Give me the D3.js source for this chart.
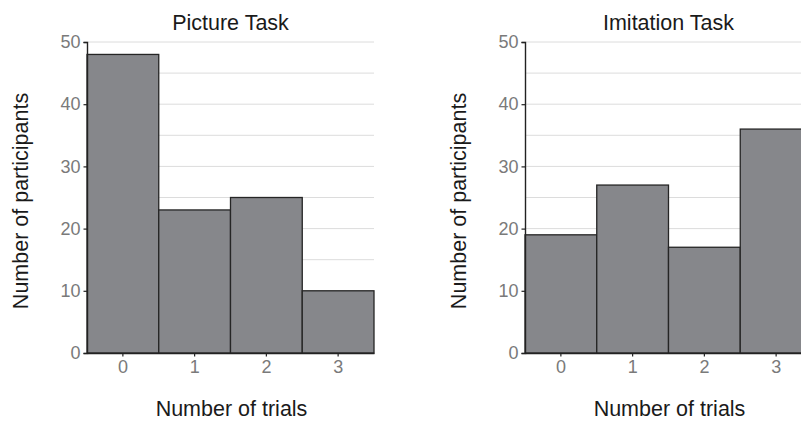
<!DOCTYPE html>
<html>
<head>
<meta charset="utf-8">
<script src="https://cdn.jsdelivr.net/npm/d3@7"></script>
<style>
  html, body { margin: 0; padding: 0; background: #fff; }
  svg { display: block; }
  text { font-family: "Liberation Sans", Arial, Helvetica, sans-serif; }
</style>
</head>
<body>
<svg id="chart" width="801" height="421"></svg>
<script>
const trials = ["0", "1", "2", "3"];
const pictureTask = [48, 23, 25, 10];
const imitationTask = [19, 27, 17, 36];
const panelTitles = ["Picture Task", "Imitation Task"];
const yTicks = [0, 10, 20, 30, 40, 50];
const yGrid = [5, 10, 15, 20, 25, 30, 35, 40, 45, 50];
const yLabel = "Number of participants";
const xLabel = "Number of trials";

const svg = d3.select("#chart");
const panels = [
  { title: panelTitles[0], values: pictureTask, left: 87, ytitleX: 28 },
  { title: panelTitles[1], values: imitationTask, left: 525, ytitleX: 466 }
];
const plotTop = 42, plotBottom = 353, plotW = 287;

panels.forEach(p => {
  const x = d3.scaleBand().domain(trials).range([p.left, p.left + plotW]).padding(0);
  const y = d3.scaleLinear().domain([0, 50]).range([plotBottom, plotTop]);
  const g = svg.append("g");

  // gridlines
  g.selectAll("line.grid").data(yGrid).join("line")
    .attr("class", "grid")
    .attr("x1", p.left).attr("x2", p.left + plotW)
    .attr("y1", d => y(d)).attr("y2", d => y(d))
    .attr("stroke", "#dcdcdc").attr("stroke-width", 1);

  // bars
  g.selectAll("rect.bar").data(p.values).join("rect")
    .attr("class", "bar")
    .attr("x", (d, i) => x(trials[i]))
    .attr("width", x.bandwidth())
    .attr("y", d => y(d))
    .attr("height", d => y(0) - y(d))
    .attr("fill", "#86878b")
    .attr("stroke", "#252525")
    .attr("stroke-width", 1.3);

  // y axis
  const ya = g.append("g").attr("transform", `translate(${p.left},0)`)
    .call(d3.axisLeft(y).tickValues(yTicks).tickSize(3.5).tickPadding(3));
  ya.select(".domain").attr("stroke", "#222").attr("stroke-width", 1.4);
  ya.selectAll(".tick line").attr("stroke", "#222").attr("stroke-width", 1.2);
  ya.selectAll(".tick text").attr("fill", "#7a7a7a").style("font-size", "18px")
    .style("font-family", '"Liberation Sans", Arial, sans-serif');

  // x axis
  const xa = g.append("g").attr("transform", `translate(0,${plotBottom})`)
    .call(d3.axisBottom(x).tickSize(3.5).tickPadding(4).tickSizeOuter(0));
  xa.select(".domain").attr("stroke", "#222").attr("stroke-width", 1.4);
  xa.selectAll(".tick line").attr("stroke", "#222").attr("stroke-width", 1.2);
  xa.selectAll(".tick text").attr("fill", "#7a7a7a").style("font-size", "18px")
    .style("font-family", '"Liberation Sans", Arial, sans-serif');

  // panel title
  g.append("text")
    .attr("x", p.left + plotW / 2).attr("y", 30)
    .attr("text-anchor", "middle")
    .attr("fill", "#1a1a1a").style("font-size", "21.5px")
    .text(p.title);

  // x axis title
  g.append("text")
    .attr("x", p.left + plotW / 2 + 1).attr("y", 416)
    .attr("text-anchor", "middle")
    .attr("fill", "#1a1a1a").style("font-size", "21.5px")
    .text(xLabel);

  // y axis title
  g.append("text")
    .attr("transform", `translate(${p.ytitleX},201) rotate(-90)`)
    .attr("text-anchor", "middle")
    .attr("fill", "#1a1a1a").style("font-size", "21.5px")
    .text(yLabel);
});
</script>
</body>
</html>
